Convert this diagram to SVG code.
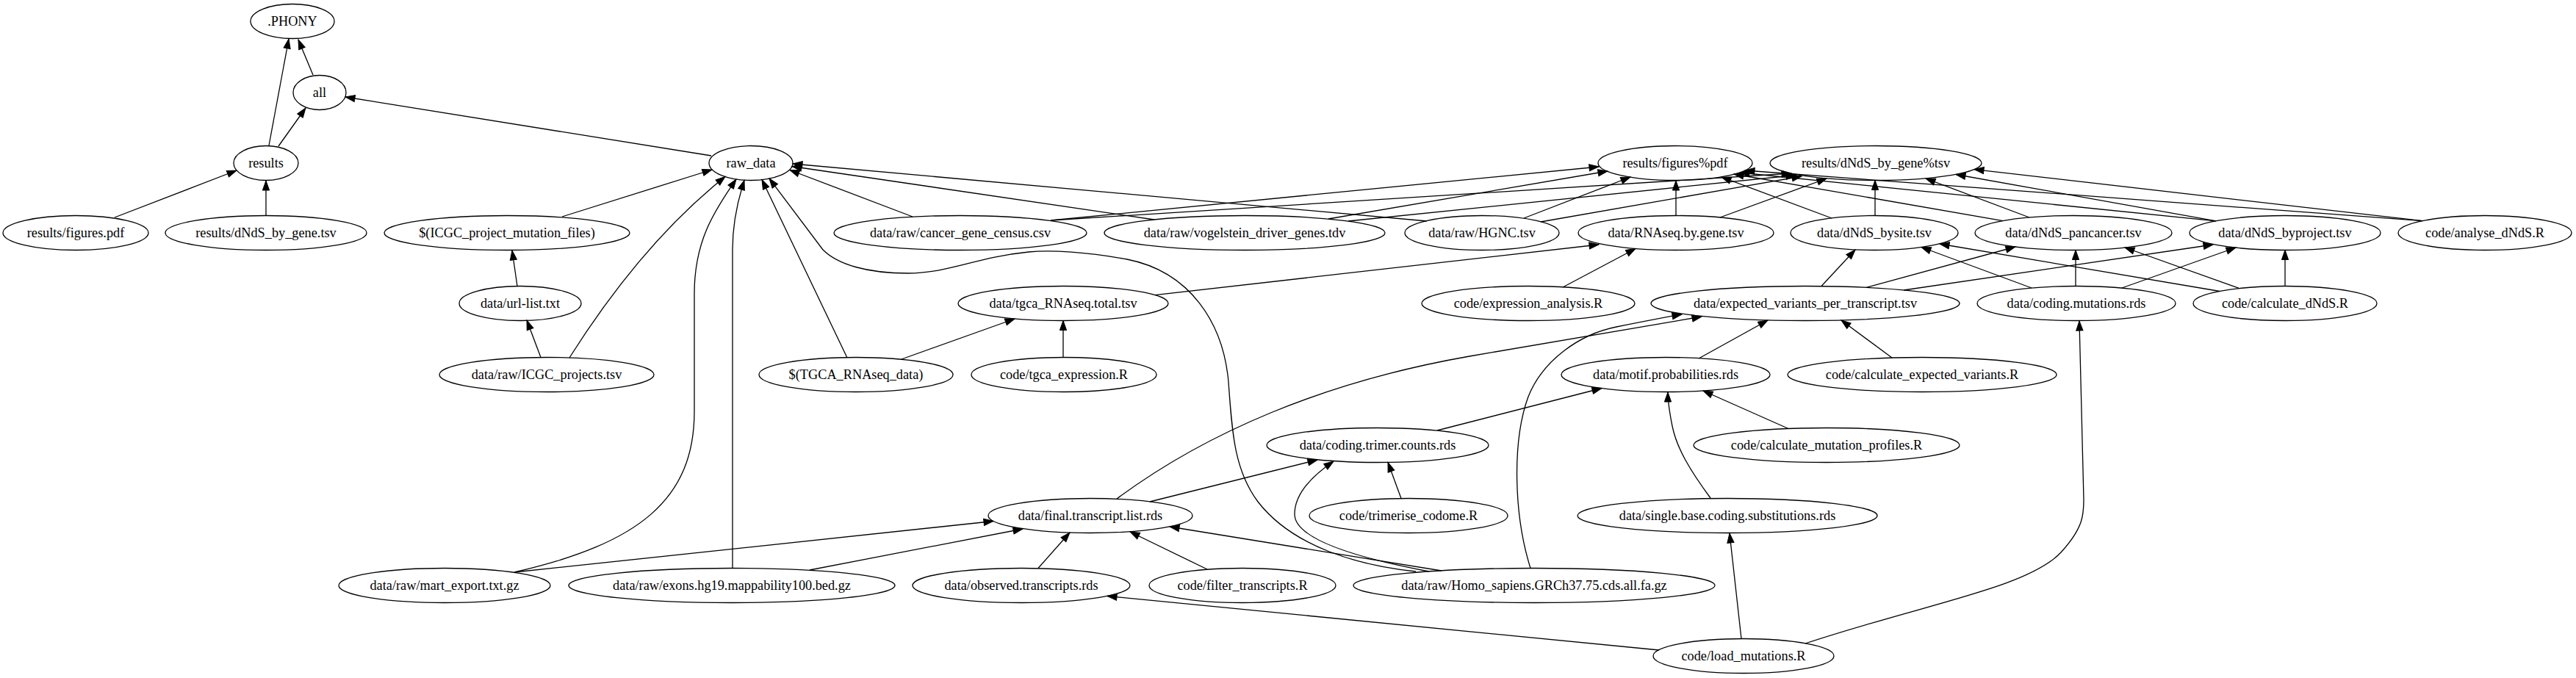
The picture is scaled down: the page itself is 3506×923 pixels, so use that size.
<svg xmlns="http://www.w3.org/2000/svg" width="3506" height="923" viewBox="0 0 3506 923">
<style>
.n ellipse{fill:none;stroke:#000;stroke-width:1.3}
.n text{font-family:"Liberation Serif","Times New Roman",serif;font-size:18.3px;text-anchor:middle;fill:#000}
#edges path{fill:none;stroke:#000;stroke-width:1.3;marker-end:url(#arr)}
</style>
<defs>
<marker id="arr" markerUnits="userSpaceOnUse" markerWidth="14" markerHeight="10" refX="13" refY="4.6" orient="auto" overflow="visible">
<path d="M0,0 L13,4.6 L0,9.2 z" fill="#000" stroke="#000" stroke-width="1"/>
</marker>
</defs>
<rect width="3506" height="923" fill="#fff"/>
<g id="edges">
<path d="M366,198 L393,53"/>
<path d="M426,102 L406,54"/>
<path d="M379,199 L416,147"/>
<path d="M968,212 L470,132"/>
<path d="M156,296 L322,232"/>
<path d="M362,293.5 L362,246"/>
<path d="M765,295 L969,231"/>
<path d="M704,389.5 L697,341"/>
<path d="M736,486.5 L717,436"/>
<path d="M775,487 C830,400 900,310 987,240.5"/>
<path d="M700,779 C870,740 945,680 945,560 L945,400 C945,330 970,290 1002,244"/>
<path d="M997,773 L997,340 C997,300 1005,270 1013,245.5"/>
<path d="M1153,487 L1037,244.5"/>
<path d="M1927,778 C1850,770 1760,745 1712,683 C1680,640 1677,590 1672,520 C1665,440 1620,370 1534,353 C1480,343 1430,340 1400,343 C1330,350 1290,372 1236,372 C1180,372 1140,360 1120,340 L1047,243"/>
<path d="M1242,295 L1075,231.5"/>
<path d="M1571,299 L1078,226.5"/>
<path d="M1942,301 L1079,223"/>
<path d="M1430,300 L2176,227"/>
<path d="M1430,300 L2438,236"/>
<path d="M1808,298 L2188,233"/>
<path d="M1835,301 L2444,238.5"/>
<path d="M2074,297 L2219,241"/>
<path d="M2097,302 L2452,240"/>
<path d="M2281,293.5 L2281,246"/>
<path d="M2341,296 L2486,243"/>
<path d="M2493,297 L2343,241"/>
<path d="M2552,293.5 L2552,245.5"/>
<path d="M2726,300.6 L2360,237"/>
<path d="M2762,296 L2621,243"/>
<path d="M3016,300.8 L2368,235"/>
<path d="M3016,300.8 L2662,237.5"/>
<path d="M3297,300.7 L2375,232"/>
<path d="M3297,300.7 L2687,230.6"/>
<path d="M1572,401.6 L2176,333"/>
<path d="M2127,391 L2226,338.5"/>
<path d="M1227,489 L1381,434"/>
<path d="M1447,486.5 L1447,436.5"/>
<path d="M2479,389.5 L2525,340"/>
<path d="M2540,391.4 L2743,336"/>
<path d="M2591,395 L3012,333"/>
<path d="M2765,392 L2615,336.5"/>
<path d="M2825,389.5 L2825,340.5"/>
<path d="M2888,392 L3043,337"/>
<path d="M3021,396.5 L2640,332"/>
<path d="M3048,392.6 L2892,337"/>
<path d="M3110,389.5 L3110,340.5"/>
<path d="M2457,876 C2620,822 2760,800 2805,752 C2836,718 2836,700 2836,680 L2830,437"/>
<path d="M2370,869.5 L2354,726"/>
<path d="M2258,885 L1507,811.5"/>
<path d="M2328,678 C2300,640 2282,610 2276,580 C2272,560 2270,545 2270,534"/>
<path d="M2434,583.5 L2318,532"/>
<path d="M1956,586 L2180,528.5"/>
<path d="M2312,488 L2406,436"/>
<path d="M2575,487 L2506,436"/>
<path d="M1520,679 C1640,590 1800,520 2000,485 C2150,460 2240,445 2316,431"/>
<path d="M2083,773.5 C2060,700 2058,600 2080,540 C2100,490 2150,455 2200,445 C2240,437 2265,432 2289,428"/>
<path d="M1565,683 L1793,626"/>
<path d="M1945,778 C1850,760 1762,735 1762,700 C1762,670 1790,645 1815,628"/>
<path d="M1907,678.5 L1889,629.5"/>
<path d="M1413,773.5 L1456,725"/>
<path d="M1643,775 L1538,724"/>
<path d="M1962,777 L1592,717"/>
<path d="M700,779 L1352,709.5"/>
<path d="M1102,776 L1392,720"/>
</g>
<g id="n1" class="n"><ellipse cx="398" cy="29" rx="57" ry="23.5"/><text x="398" y="35">.PHONY</text></g>
<g id="n2" class="n"><ellipse cx="435" cy="126" rx="36" ry="23.5"/><text x="435" y="132">all</text></g>
<g id="n3" class="n"><ellipse cx="362" cy="222" rx="44" ry="23.5"/><text x="362" y="228">results</text></g>
<g id="n4" class="n"><ellipse cx="103" cy="317" rx="99" ry="23.5"/><text x="103" y="323">results/figures.pdf</text></g>
<g id="n5" class="n"><ellipse cx="362" cy="317" rx="137" ry="23.5"/><text x="362" y="323">results/dNdS_by_gene.tsv</text></g>
<g id="n6" class="n"><ellipse cx="690" cy="317" rx="167" ry="23.5"/><text x="690" y="323">$(ICGC_project_mutation_files)</text></g>
<g id="n7" class="n"><ellipse cx="708" cy="413" rx="83" ry="23.5"/><text x="708" y="419">data/url-list.txt</text></g>
<g id="n8" class="n"><ellipse cx="744" cy="510" rx="146" ry="23.5"/><text x="744" y="516">data/raw/ICGC_projects.tsv</text></g>
<g id="n9" class="n"><ellipse cx="1022" cy="222" rx="57" ry="23.5"/><text x="1022" y="228">raw_data</text></g>
<g id="n10" class="n"><ellipse cx="1307" cy="317" rx="172" ry="23.5"/><text x="1307" y="323">data/raw/cancer_gene_census.csv</text></g>
<g id="n11" class="n"><ellipse cx="1694" cy="317" rx="191" ry="23.5"/><text x="1694" y="323">data/raw/vogelstein_driver_genes.tdv</text></g>
<g id="n12" class="n"><ellipse cx="2017" cy="317" rx="105" ry="23.5"/><text x="2017" y="323">data/raw/HGNC.tsv</text></g>
<g id="n13" class="n"><ellipse cx="1447" cy="413" rx="143" ry="23.5"/><text x="1447" y="419">data/tgca_RNAseq.total.tsv</text></g>
<g id="n14" class="n"><ellipse cx="1165" cy="510" rx="132" ry="23.5"/><text x="1165" y="516">$(TGCA_RNAseq_data)</text></g>
<g id="n15" class="n"><ellipse cx="1448" cy="510" rx="126" ry="23.5"/><text x="1448" y="516">code/tgca_expression.R</text></g>
<g id="n16" class="n"><ellipse cx="2080" cy="413" rx="145" ry="23.5"/><text x="2080" y="419">code/expression_analysis.R</text></g>
<g id="n17" class="n"><ellipse cx="605" cy="797" rx="144" ry="23.5"/><text x="605" y="803">data/raw/mart_export.txt.gz</text></g>
<g id="n18" class="n"><ellipse cx="996" cy="797" rx="222" ry="23.5"/><text x="996" y="803">data/raw/exons.hg19.mappability100.bed.gz</text></g>
<g id="n19" class="n"><ellipse cx="1390" cy="797" rx="148" ry="23.5"/><text x="1390" y="803">data/observed.transcripts.rds</text></g>
<g id="n20" class="n"><ellipse cx="1691" cy="797" rx="127" ry="23.5"/><text x="1691" y="803">code/filter_transcripts.R</text></g>
<g id="n21" class="n"><ellipse cx="2088" cy="797" rx="246" ry="23.5"/><text x="2088" y="803">data/raw/Homo_sapiens.GRCh37.75.cds.all.fa.gz</text></g>
<g id="n22" class="n"><ellipse cx="1484" cy="702" rx="139" ry="23.5"/><text x="1484" y="708">data/final.transcript.list.rds</text></g>
<g id="n23" class="n"><ellipse cx="1875" cy="606" rx="151" ry="23.5"/><text x="1875" y="612">data/coding.trimer.counts.rds</text></g>
<g id="n24" class="n"><ellipse cx="1917" cy="702" rx="135" ry="23.5"/><text x="1917" y="708">code/trimerise_codome.R</text></g>
<g id="n25" class="n"><ellipse cx="2280" cy="222" rx="105" ry="23.5"/><text x="2280" y="228">results/figures%pdf</text></g>
<g id="n26" class="n"><ellipse cx="2553" cy="222" rx="144" ry="23.5"/><text x="2553" y="228">results/dNdS_by_gene%tsv</text></g>
<g id="n27" class="n"><ellipse cx="2281" cy="317" rx="133" ry="23.5"/><text x="2281" y="323">data/RNAseq.by.gene.tsv</text></g>
<g id="n28" class="n"><ellipse cx="2551" cy="317" rx="114" ry="23.5"/><text x="2551" y="323">data/dNdS_bysite.tsv</text></g>
<g id="n29" class="n"><ellipse cx="2822" cy="317" rx="134" ry="23.5"/><text x="2822" y="323">data/dNdS_pancancer.tsv</text></g>
<g id="n30" class="n"><ellipse cx="3110" cy="317" rx="130" ry="23.5"/><text x="3110" y="323">data/dNdS_byproject.tsv</text></g>
<g id="n31" class="n"><ellipse cx="3382" cy="317" rx="118" ry="23.5"/><text x="3382" y="323">code/analyse_dNdS.R</text></g>
<g id="n32" class="n"><ellipse cx="2457" cy="413" rx="210" ry="23.5"/><text x="2457" y="419">data/expected_variants_per_transcript.tsv</text></g>
<g id="n33" class="n"><ellipse cx="2826" cy="413" rx="135" ry="23.5"/><text x="2826" y="419">data/coding.mutations.rds</text></g>
<g id="n34" class="n"><ellipse cx="3110" cy="413" rx="125" ry="23.5"/><text x="3110" y="419">code/calculate_dNdS.R</text></g>
<g id="n35" class="n"><ellipse cx="2267" cy="510" rx="142" ry="23.5"/><text x="2267" y="516">data/motif.probabilities.rds</text></g>
<g id="n36" class="n"><ellipse cx="2616" cy="510" rx="183" ry="23.5"/><text x="2616" y="516">code/calculate_expected_variants.R</text></g>
<g id="n37" class="n"><ellipse cx="2486" cy="606" rx="181" ry="23.5"/><text x="2486" y="612">code/calculate_mutation_profiles.R</text></g>
<g id="n38" class="n"><ellipse cx="2351" cy="702" rx="204" ry="23.5"/><text x="2351" y="708">data/single.base.coding.substitutions.rds</text></g>
<g id="n39" class="n"><ellipse cx="2373" cy="893" rx="123" ry="23.5"/><text x="2373" y="899">code/load_mutations.R</text></g>
</svg>
